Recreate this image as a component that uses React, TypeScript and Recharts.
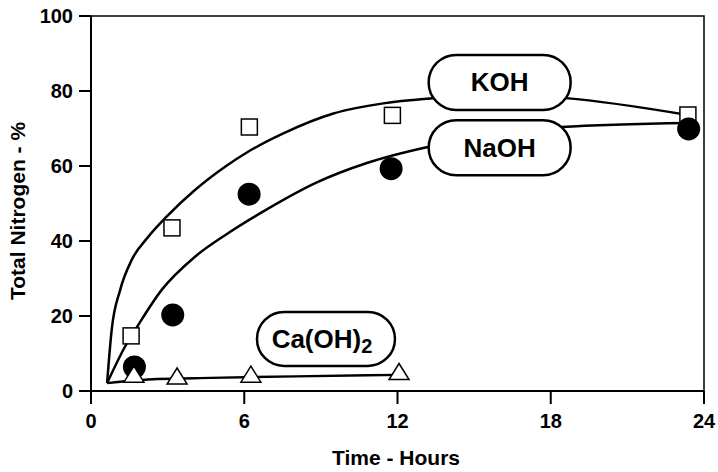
import { ComposedChart, Line, Scatter, XAxis, YAxis, ReferenceArea, ReferenceDot } from 'recharts';

// measured points (hours, total nitrogen %)
const kohHours = [1.57, 3.17, 6.2, 11.8, 23.37];
const kohValues = [14.7, 43.5, 70.4, 73.5, 73.6];

const naohHours = [1.7, 3.2, 6.19, 11.75, 23.4];
const naohValues = [6.4, 20.3, 52.5, 59.3, 69.9];

const caHours = [1.68, 3.37, 6.26, 12.06];
const caValues = [4.5, 4.0, 4.5, 5.2];

// hand-drawn fit curves
const kohCurveHours = [0.63, 0.81, 1.14, 1.59, 2.24, 2.96, 4.07, 5.25, 6.15, 7.53, 9.49, 11.45, 13.27, 16, 18.6, 23.37];
const kohCurveValues = [2.1, 16.3, 26.9, 34.9, 41.1, 46.5, 53.6, 59.8, 63.8, 68.7, 74, 76.7, 78, 79, 78.1, 73.6];

const naohCurveHours = [0.63, 1.33, 1.85, 2.76, 4.07, 5.35, 6.9, 8.8, 10.8, 13.14, 16, 18.4, 23.4];
const naohCurveValues = [2.1, 11.8, 17.6, 26.9, 35.8, 42, 48.5, 55.5, 60.8, 65, 68.5, 70.4, 71.5];

const caCurveHours = [0.63, 2.6, 4.7, 8, 12.06];
const caCurveValues = [2.1, 3.2, 3.5, 3.9, 4.3];

// label boxes
const labelNames = ['KOH', 'NaOH', 'Ca(OH)2'];
const labelHours = [16, 16, 9.2];
const labelValues = [82.3, 64.9, 13.9];

const xTicks = [0, 6, 12, 18, 24];
const yTicks = [0, 20, 40, 60, 80, 100];

const toXY = (xs: number[], ys: number[]) => xs.map((x, i) => ({ x, y: ys[i] }));

const kohData = toXY(kohHours, kohValues);
const naohData = toXY(naohHours, naohValues);
const caData = toXY(caHours, caValues);
const kohCurve = toXY(kohCurveHours, kohCurveValues);
const naohCurve = toXY(naohCurveHours, naohCurveValues);
const caCurve = toXY(caCurveHours, caCurveValues);

const FONT = '"Liberation Sans", Arial, Helvetica, sans-serif';

const SquareMark = (props: any) => (
  <rect x={props.cx - 8} y={props.cy - 8} width={16} height={16} fill="#fff" stroke="#000" strokeWidth={1.5} />
);

const CircleMark = (props: any) => <circle cx={props.cx} cy={props.cy} r={11.5} fill="#000" />;

const TriangleMark = (props: any) => {
  const { cx, cy } = props;
  return (
    <polygon
      points={`${cx},${cy - 8} ${cx + 10},${cy + 8} ${cx - 10},${cy + 8}`}
      fill="#fff"
      stroke="#000"
      strokeWidth={1.5}
    />
  );
};

const makeBox = (name: string) => (props: any) => {
  const { cx, cy } = props;
  const w = name === 'Ca(OH)2' ? 138 : 142;
  const h = name === 'Ca(OH)2' ? 54 : 55;
  return (
    <g>
      <rect x={cx - w / 2} y={cy - h / 2} width={w} height={h} rx={h / 2} ry={h / 2} fill="#fff" stroke="#000" strokeWidth={2.5} />
      {name === 'Ca(OH)2' ? (
        <text x={cx - 4} y={cy + 9} textAnchor="middle" fontFamily={FONT} fontWeight="bold" fontSize={26} fill="#000">
          Ca(OH)
          <tspan fontSize={20} dy={5}>2</tspan>
        </text>
      ) : (
        <text x={cx} y={cy + 9} textAnchor="middle" fontFamily={FONT} fontWeight="bold" fontSize={26} fill="#000">
          {name}
        </text>
      )}
    </g>
  );
};

const YTitle = () => {
  const x = 25;
  const y = 211;
  return (
    <text x={x} y={y} transform={`rotate(-90 ${x} ${y})`} textAnchor="middle" fontFamily={FONT} fontWeight="bold" fontSize={21} fill="#000">
      Total Nitrogen - %
    </text>
  );
};

const XTitle = () => (
  <text x={396} y={465} textAnchor="middle" fontFamily={FONT} fontWeight="bold" fontSize={21} fill="#000">
    Time - Hours
  </text>
);

export default function App() {
  const tickStyle = { fontFamily: FONT, fontWeight: 'bold', fontSize: 20, fill: '#000' };
  return (
    <div style={{ position: 'absolute', left: 0, top: 0, width: 718, height: 472, background: '#fff' }}>
      <ComposedChart width={718} height={472} margin={{ top: 16, right: 14, left: 0, bottom: 0 }}>
        <XAxis
          type="number"
          dataKey="x"
          domain={[0, 24]}
          ticks={xTicks}
          allowDataOverflow
          height={81}
          tickSize={13}
          tickMargin={10}
          tick={tickStyle}
          axisLine={{ stroke: '#000', strokeWidth: 2 }}
          tickLine={{ stroke: '#000', strokeWidth: 2 }}
          label={<XTitle />}
        />
        <YAxis
          type="number"
          dataKey="y"
          domain={[0, 100]}
          ticks={yTicks}
          allowDataOverflow
          width={91}
          tickSize={12}
          tickMargin={6}
          tick={tickStyle}
          axisLine={{ stroke: '#000', strokeWidth: 2 }}
          tickLine={{ stroke: '#000', strokeWidth: 2 }}
          label={<YTitle />}
        />
        <ReferenceArea x1={0} x2={24} y1={0} y2={100} fill="none" fillOpacity={0} stroke="#000" strokeWidth={1.5} />
        <Line data={kohCurve} dataKey="y" type="monotone" stroke="#000" strokeWidth={2.5} dot={false} isAnimationActive={false} />
        <Line data={naohCurve} dataKey="y" type="monotone" stroke="#000" strokeWidth={2.5} dot={false} isAnimationActive={false} />
        <Line data={caCurve} dataKey="y" type="monotone" stroke="#000" strokeWidth={2.5} dot={false} isAnimationActive={false} />
        <Scatter data={kohData} dataKey="y" shape={<SquareMark />} isAnimationActive={false} />
        <Scatter data={naohData} dataKey="y" shape={<CircleMark />} isAnimationActive={false} />
        <Scatter data={caData} dataKey="y" shape={<TriangleMark />} isAnimationActive={false} />
        {labelNames.map((name, i) => (
          <ReferenceDot key={name} x={labelHours[i]} y={labelValues[i]} r={1} shape={makeBox(name)} />
        ))}
      </ComposedChart>
    </div>
  );
}
